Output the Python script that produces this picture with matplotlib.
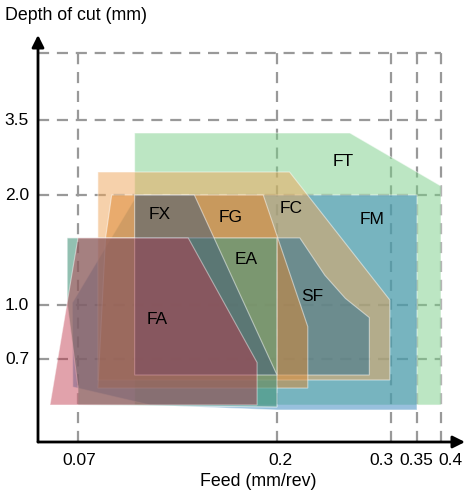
import numpy as np
import matplotlib
matplotlib.use("Agg")
import matplotlib.pyplot as plt
from matplotlib.patches import Polygon

plt.rcParams['font.family'] = ['Liberation Sans', 'DejaVu Sans']

# ---- axis tick values (schematic, non-linear axes) ----
feed_ticks = [0.07, 0.2, 0.3, 0.35, 0.4]
feed_labels = ["0.07", "0.2", "0.3", "0.35", "0.4"]
depth_ticks = [0.7, 1.0, 2.0, 3.5]
depth_labels = ["0.7", "1.0", "2.0", "3.5"]
depth_top = 5.0

# ---- application areas: (feed, depth) vertices ----
FT_feed = [0.107, 0.264, 0.4, 0.4, 0.107]
FT_depth = [3.24, 3.24, 2.18, 0.312, 0.312]
FM_feed = [0.1085, 0.35, 0.35, 0.2, 0.117, 0.061, 0.060]
FM_depth = [2.0, 2.0, 0.27, 0.27, 0.312, 0.464, 1.02]
FC_feed = [0.083, 0.211, 0.299, 0.299, 0.083]
FC_depth = [2.46, 2.46, 1.045, 0.523, 0.523]
SF_feed = [0.2, 0.220, 0.242, 0.260, 0.281, 0.281, 0.2]
SF_depth = [1.61, 1.61, 1.27, 1.06, 0.93, 0.565, 0.565]
FG_feed = [0.092, 0.191, 0.227, 0.227, 0.083, 0.088]
FG_depth = [2.0, 2.0, 0.88, 0.455, 0.455, 1.61]
EA_feed = [0.051, 0.2, 0.2, 0.07, 0.07, 0.051]
EA_depth = [1.61, 1.61, 0.295, 0.312, 0.464, 1.02]
FX_feed = [0.107, 0.146, 0.2, 0.107]
FX_depth = [2.0, 2.0, 0.565, 0.565]
FA_feed = [0.07, 0.142, 0.187, 0.187, 0.021]
FA_depth = [1.61, 1.61, 0.67, 0.312, 0.312]

# name, feeds, depths, colour, alpha, label feed, label depth
areas = [
    ("FT", FT_feed, FT_depth, '#7bcf89', 0.5, 0.258, 2.68),
    ("FM", FM_feed, FM_depth, '#3383bc', 0.5, 0.283, 1.78),
    ("FC", FC_feed, FC_depth, '#efa558', 0.5, 0.212, 1.88),
    ("SF", SF_feed, SF_depth, '#276d92', 0.5, 0.231, 1.08),
    ("FG", FG_feed, FG_depth, '#dd8730', 0.5, 0.170, 1.80),
    ("EA", EA_feed, EA_depth, '#49967d', 0.6, 0.180, 1.41),
    ("FX", FX_feed, FX_depth, '#3d5878', 0.5, 0.1236, 1.82),
    ("FA", FA_feed, FA_depth, '#be3246', 0.45, 0.122, 0.92),
]

# ---- schematic axis scales (piecewise) ----
x_vals = [0.0, 0.07, 0.2, 0.3, 0.35, 0.4, 0.45]
x_pos = [0, 40, 239, 353, 379, 403, 427]
y_vals = [0.0, 0.7, 1.0, 2.0, 3.5, 5.0, 5.4]
y_pos = [0, 83, 137, 247, 322, 389, 407]

def xf(v):
    return np.interp(v, x_vals, x_pos)
def xi(p):
    return np.interp(p, x_pos, x_vals)
def yf(v):
    return np.interp(v, y_vals, y_pos)
def yi(p):
    return np.interp(p, y_pos, y_vals)

fig = plt.figure(figsize=(4.67, 4.98), dpi=100)
ax = fig.add_axes([38/467, (498-442)/498, 427/467, 407/498])
ax.set_xscale('function', functions=(xf, xi))
ax.set_yscale('function', functions=(yf, yi))
ax.set_xlim(0.0, 0.45)
ax.set_ylim(0.0, 5.4)

# grid
gkw = dict(color='#999999', lw=1.6, dashes=(5, 3.5), zorder=1)
for d in depth_ticks + [depth_top]:
    ax.plot([0.0, feed_ticks[-1]], [d, d], **gkw)
for f in feed_ticks:
    ax.plot([f, f], [0.0, depth_top], **gkw)

for i, (name, fx, dy, col, a, lx, ly) in enumerate(areas):
    poly = Polygon(np.column_stack([fx, dy]), closed=True, facecolor=col,
                   alpha=a, edgecolor=(1, 1, 1, 0.6), lw=0.8, zorder=2 + i)
    ax.add_patch(poly)
    ax.text(lx, ly, name, ha='center', va='center', fontsize=12.5, zorder=20)

for s in ax.spines.values():
    s.set_visible(False)

arrow = dict(arrowstyle='-|>', lw=2, color='black', mutation_scale=18,
             shrinkA=0, shrinkB=0)
ax.annotate('', xy=(0, 1), xytext=(0, 0), xycoords='axes fraction',
            arrowprops=arrow, zorder=30)
ax.annotate('', xy=(1, 0), xytext=(0, 0), xycoords='axes fraction',
            arrowprops=arrow, zorder=30)

# tick labels (placed as text, slightly spread like the reference)
ax.set_xticks([])
ax.set_yticks([])
x_label_shift_px = [1, 3, -10, -1, 9]
for f, lab, dx in zip(feed_ticks, feed_labels, x_label_shift_px):
    ax.annotate(lab, xy=(f, 0), xycoords=('data', 'axes fraction'),
                xytext=(dx * 0.72, -18 * 0.72), textcoords='offset points',
                ha='center', va='center', fontsize=12.5, annotation_clip=False)
for d, lab in zip(depth_ticks, depth_labels):
    ax.annotate(lab, xy=(0, d), xycoords=('axes fraction', 'data'),
                xytext=(-9 * 0.72, 0), textcoords='offset points',
                ha='right', va='center', fontsize=12.5, annotation_clip=False)

fig.text(258/467, 1 - 481/498, "Feed (mm/rev)", ha='center', va='center', fontsize=12.8)
fig.text(5/467, 1 - 15/498, "Depth of cut (mm)", ha='left', va='center', fontsize=12.8)

fig.savefig("out.png", dpi=100)
